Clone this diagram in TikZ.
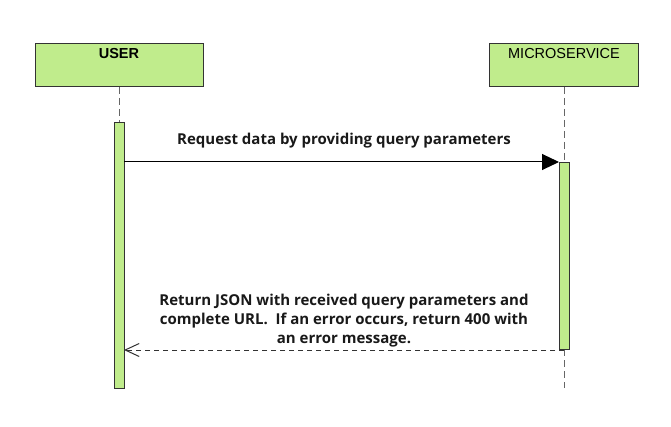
\documentclass[tikz,border=0pt]{standalone}
\usepackage{fontspec}
\setmainfont{Liberation Sans}
\newfontfamily\msgfont{Open Sans}
\usetikzlibrary{arrows.meta}
\definecolor{actgreen}{RGB}{192,236,140}
\begin{document}
\begin{tikzpicture}[x=1pt,y=-1pt,
  actor/.style={draw=black!80, line width=1pt, fill=actgreen},
  actbar/.style={draw=black!80, line width=1pt, fill=actgreen},
  lifeline/.style={draw=black!60, line width=1pt, dash pattern=on 7pt off 4pt},
  msgtext/.style={font=\msgfont\bfseries\fontsize{15}{19}\selectfont, align=center, text=black!90},
  lbl/.style={font=\fontsize{14.5}{16}\selectfont, anchor=north, inner sep=4pt}]
\useasboundingbox[fill=white] (0,0) rectangle (671,427);
% actor boxes
\draw[actor] (35,44) rectangle (203,87);
\node[lbl, font=\bfseries\fontsize{14.5}{16}\selectfont] (user) at (119,44) {USER};
\draw[actor] (489,44) rectangle (638,87);
\node[lbl] (ms) at (564,44) {MICROSERVICE};
% lifelines
\coordinate (u0) at (119,87);
\coordinate (u1) at (119,122);
\coordinate (m0) at (564,87);
\coordinate (m1) at (564,162);
\coordinate (m2) at (564,349);
\coordinate (m3) at (564,388);
\draw[lifeline] (u0) -- (u1);
\draw[lifeline] (m0) -- (m1);
\draw[lifeline] (m2) -- (m3);
% activation bars
\node[actbar, minimum width=10pt, minimum height=266pt, inner sep=0pt, anchor=north] (ubar) at (119,122) {};
\node[actbar, minimum width=10pt, minimum height=187pt, inner sep=0pt, anchor=north] (mbar) at (564,162) {};
% messages
\coordinate (req0) at (124,162);
\coordinate (req1) at (559,162);
\draw[black, line width=1pt, -{Triangle[length=17pt,width=16pt]}] (req0) -- (req1);
\node[msgtext] (reqlbl) at (344,141) {Request data by providing query parameters};
\coordinate (ret0) at (564,350);
\coordinate (ret1) at (124,350);
\draw[black!80, line width=1pt, dash pattern=on 5pt off 4pt, -{Straight Barb[length=14pt,width=13pt,line width=1pt]}] (ret0) -- (ret1);
\node[msgtext] (retlbl) at (344,321) {Return JSON with received query parameters and\\complete URL.\ \ If an error occurs, return 400 with\\an error message.};
\end{tikzpicture}
\end{document}
